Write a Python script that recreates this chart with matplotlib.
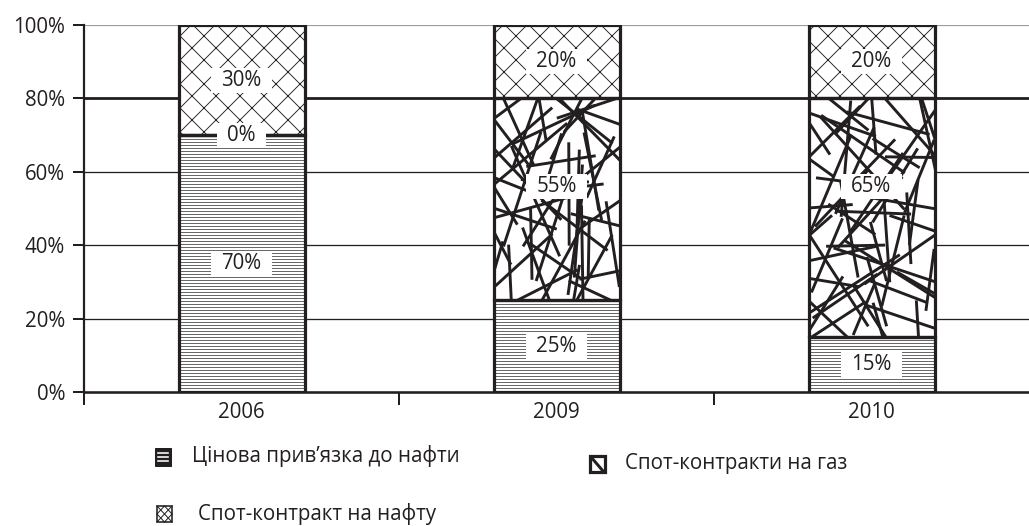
import numpy as np
import matplotlib
matplotlib.use("Agg")
import matplotlib.pyplot as plt
from matplotlib.patches import Rectangle
from matplotlib.path import Path

# дані
years = ["2006", "2009", "2010"]
oil_link = [70, 25, 15]      # Цінова прив'язка до нафти
gas_spot = [0, 55, 65]       # Спот-контракти на газ
oil_spot = [30, 20, 20]      # Спот-контракт на нафту
legend_labels = ["Цінова прив’язка до нафти", "Спот-контракти на газ", "Спот-контракт на нафту"]
yticks = [0, 20, 40, 60, 80, 100]

ink = "#231f20"
plt.rcParams["font.family"] = ["Open Sans", "DejaVu Sans"]
plt.rcParams["hatch.linewidth"] = 0.9

W, H = 1029, 526
dpi = 72
fig = plt.figure(figsize=(W / dpi, H / dpi), dpi=dpi)
ax = fig.add_axes([84 / W, 134 / H, 945 / W, 367 / H])

x = np.arange(len(years))
bw = 0.4
fs = 20.5


def wide_box(x0, y0, width, height, mutation_size):
    # білий прямокутник під підписом: ширші поля по горизонталі
    px = 0.5 * mutation_size
    py = 0.1 * mutation_size
    x0, y0 = x0 - px, y0 - py
    x1, y1 = x0 + width + 2 * px, y0 + height + 2 * py
    return Path([(x0, y0), (x1, y0), (x1, y1), (x0, y1), (x0, y0)], closed=True)


# сітка
for v in [20, 40, 60]:
    ax.axhline(v, color=ink, lw=1.3, zorder=1)
ax.axhline(80, color=ink, lw=2.8, zorder=1)
ax.axhline(100, color="#9a9ea1", lw=2.2, zorder=1)

# нижня частина - горизонтальні лінії
ax.bar(x, oil_link, bw, color="white", edgecolor="#58595b", hatch="----", lw=0, zorder=2)
ax.bar(x, oil_link, bw, fill=False, edgecolor=ink, lw=3.2, zorder=4)

# середня частина - хаотичні лінії (текстура)
gas_bars = ax.bar(x, gas_spot, bw, bottom=oil_link, color="white", lw=0, zorder=2)
rng = np.random.default_rng(5)  # лише для візерунка текстури, не для даних
px_x = 945 / 3.0   # пікселів на одиницю x
px_y = 367 / 100.0  # пікселів на 1%
cell = 25  # px
for b, h, rect in zip(x, gas_spot, gas_bars):
    if h == 0:
        continue
    x0 = b - bw / 2
    y0 = rect.get_y()
    wpx, hpx = bw * px_x, h * px_y
    nx, ny = int(wpx // cell) + 1, int(hpx // cell) + 1
    for i in range(nx):
        for j in range(ny):
            cxp = (i + rng.uniform(0, 1)) * wpx / nx
            cyp = (j + rng.uniform(0, 1)) * hpx / ny
            ang = rng.uniform(0, np.pi)
            ln = rng.uniform(55, 125)
            dx = np.cos(ang) * ln / 2
            dy = np.sin(ang) * ln / 2
            xs = [x0 + (cxp - dx) / px_x, x0 + (cxp + dx) / px_x]
            ys = [y0 + (cyp - dy) / px_y, y0 + (cyp + dy) / px_y]
            line, = ax.plot(xs, ys, color=ink, lw=2.9, solid_capstyle="butt", zorder=3)
            line.set_clip_path(rect)
ax.bar(x, gas_spot, bw, bottom=oil_link, fill=False, edgecolor=ink, lw=3.2, zorder=4)

# верхня частина - сітка "x"
bottom2 = [a + b for a, b in zip(oil_link, gas_spot)]
ax.bar(x, oil_spot, bw, bottom=bottom2, color="white", edgecolor=ink, hatch="x", lw=0, zorder=2)
ax.bar(x, oil_spot, bw, bottom=bottom2, fill=False, edgecolor=ink, lw=3.2, zorder=4)

# підписи
box = dict(boxstyle=wide_box, fc="white", ec="none")
for i in range(len(years)):
    ax.text(x[i], oil_link[i] / 2, f"{oil_link[i]}%", ha="center", va="center",
            fontsize=fs, color=ink, bbox=box, zorder=6)
    gy = oil_link[i] + gas_spot[i] / 2 if gas_spot[i] == 0 else 56
    ax.text(x[i], gy, f"{gas_spot[i]}%", ha="center", va="center",
            fontsize=fs, color=ink, bbox=box, zorder=6)
    ax.text(x[i], bottom2[i] + oil_spot[i] / 2, f"{oil_spot[i]}%", ha="center", va="center",
            fontsize=fs, color=ink, bbox=box, zorder=6)

ax.set_xlim(-0.5, 2.5)
ax.set_ylim(0, 100)
ax.set_yticks(yticks)
ax.set_yticklabels([f"{v}%" for v in yticks])
ax.set_xticks(x)
ax.set_xticklabels(years)
ax.set_xticks([-0.5, 0.5, 1.5], minor=True)
ax.tick_params(axis="x", which="major", length=0, pad=10, labelsize=fs, labelcolor=ink)
ax.tick_params(axis="x", which="minor", length=13, width=2, color=ink)
ax.tick_params(axis="y", length=11, width=2, color=ink, pad=8, labelsize=fs, labelcolor=ink)
for s in ["top", "right"]:
    ax.spines[s].set_visible(False)
ax.spines["left"].set_linewidth(2.2)
ax.spines["left"].set_color(ink)
ax.spines["bottom"].set_linewidth(2.6)
ax.spines["bottom"].set_color(ink)
ax.spines["bottom"].set_zorder(5)


# легенда (вручну)
def fx(px):
    return px / W


def fy(py):
    return 1 - py / H


def icon(left, top, w, h, **kw):
    r = Rectangle((fx(left), fy(top + h)), w / W, h / H, transform=fig.transFigure, **kw)
    fig.add_artist(r)


def seg(xa, ya, xb, yb, **kw):
    fig.add_artist(plt.Line2D([fx(xa), fx(xb)], [fy(ya), fy(yb)], transform=fig.transFigure, **kw))


# 1 - горизонтальні лінії
icon(155, 448, 16, 18, facecolor=ink, edgecolor=ink, lw=1)
for yy in [453, 457, 461]:
    seg(158, yy, 168, yy, color="white", lw=1.6)
fig.text(fx(192), fy(456), legend_labels[0], fontsize=fs, color=ink, va="center")
# 2 - газ
icon(590, 456, 15, 16, facecolor="white", edgecolor=ink, lw=3.2)
seg(591, 457, 603, 471, color=ink, lw=3)
fig.text(fx(625), fy(463), legend_labels[1], fontsize=fs, color=ink, va="center")
# 3 - сітка
icon(157, 506, 15, 16, facecolor="white", edgecolor=ink, lw=1.6)
seg(157, 506, 172, 522, color=ink, lw=1)
seg(172, 506, 157, 522, color=ink, lw=1)
seg(164.5, 506, 157, 514, color=ink, lw=1)
seg(164.5, 506, 172, 514, color=ink, lw=1)
seg(157, 514, 164.5, 522, color=ink, lw=1)
seg(172, 514, 164.5, 522, color=ink, lw=1)
fig.text(fx(198), fy(514), legend_labels[2], fontsize=fs, color=ink, va="center")

fig.savefig("out.png", dpi=dpi)
